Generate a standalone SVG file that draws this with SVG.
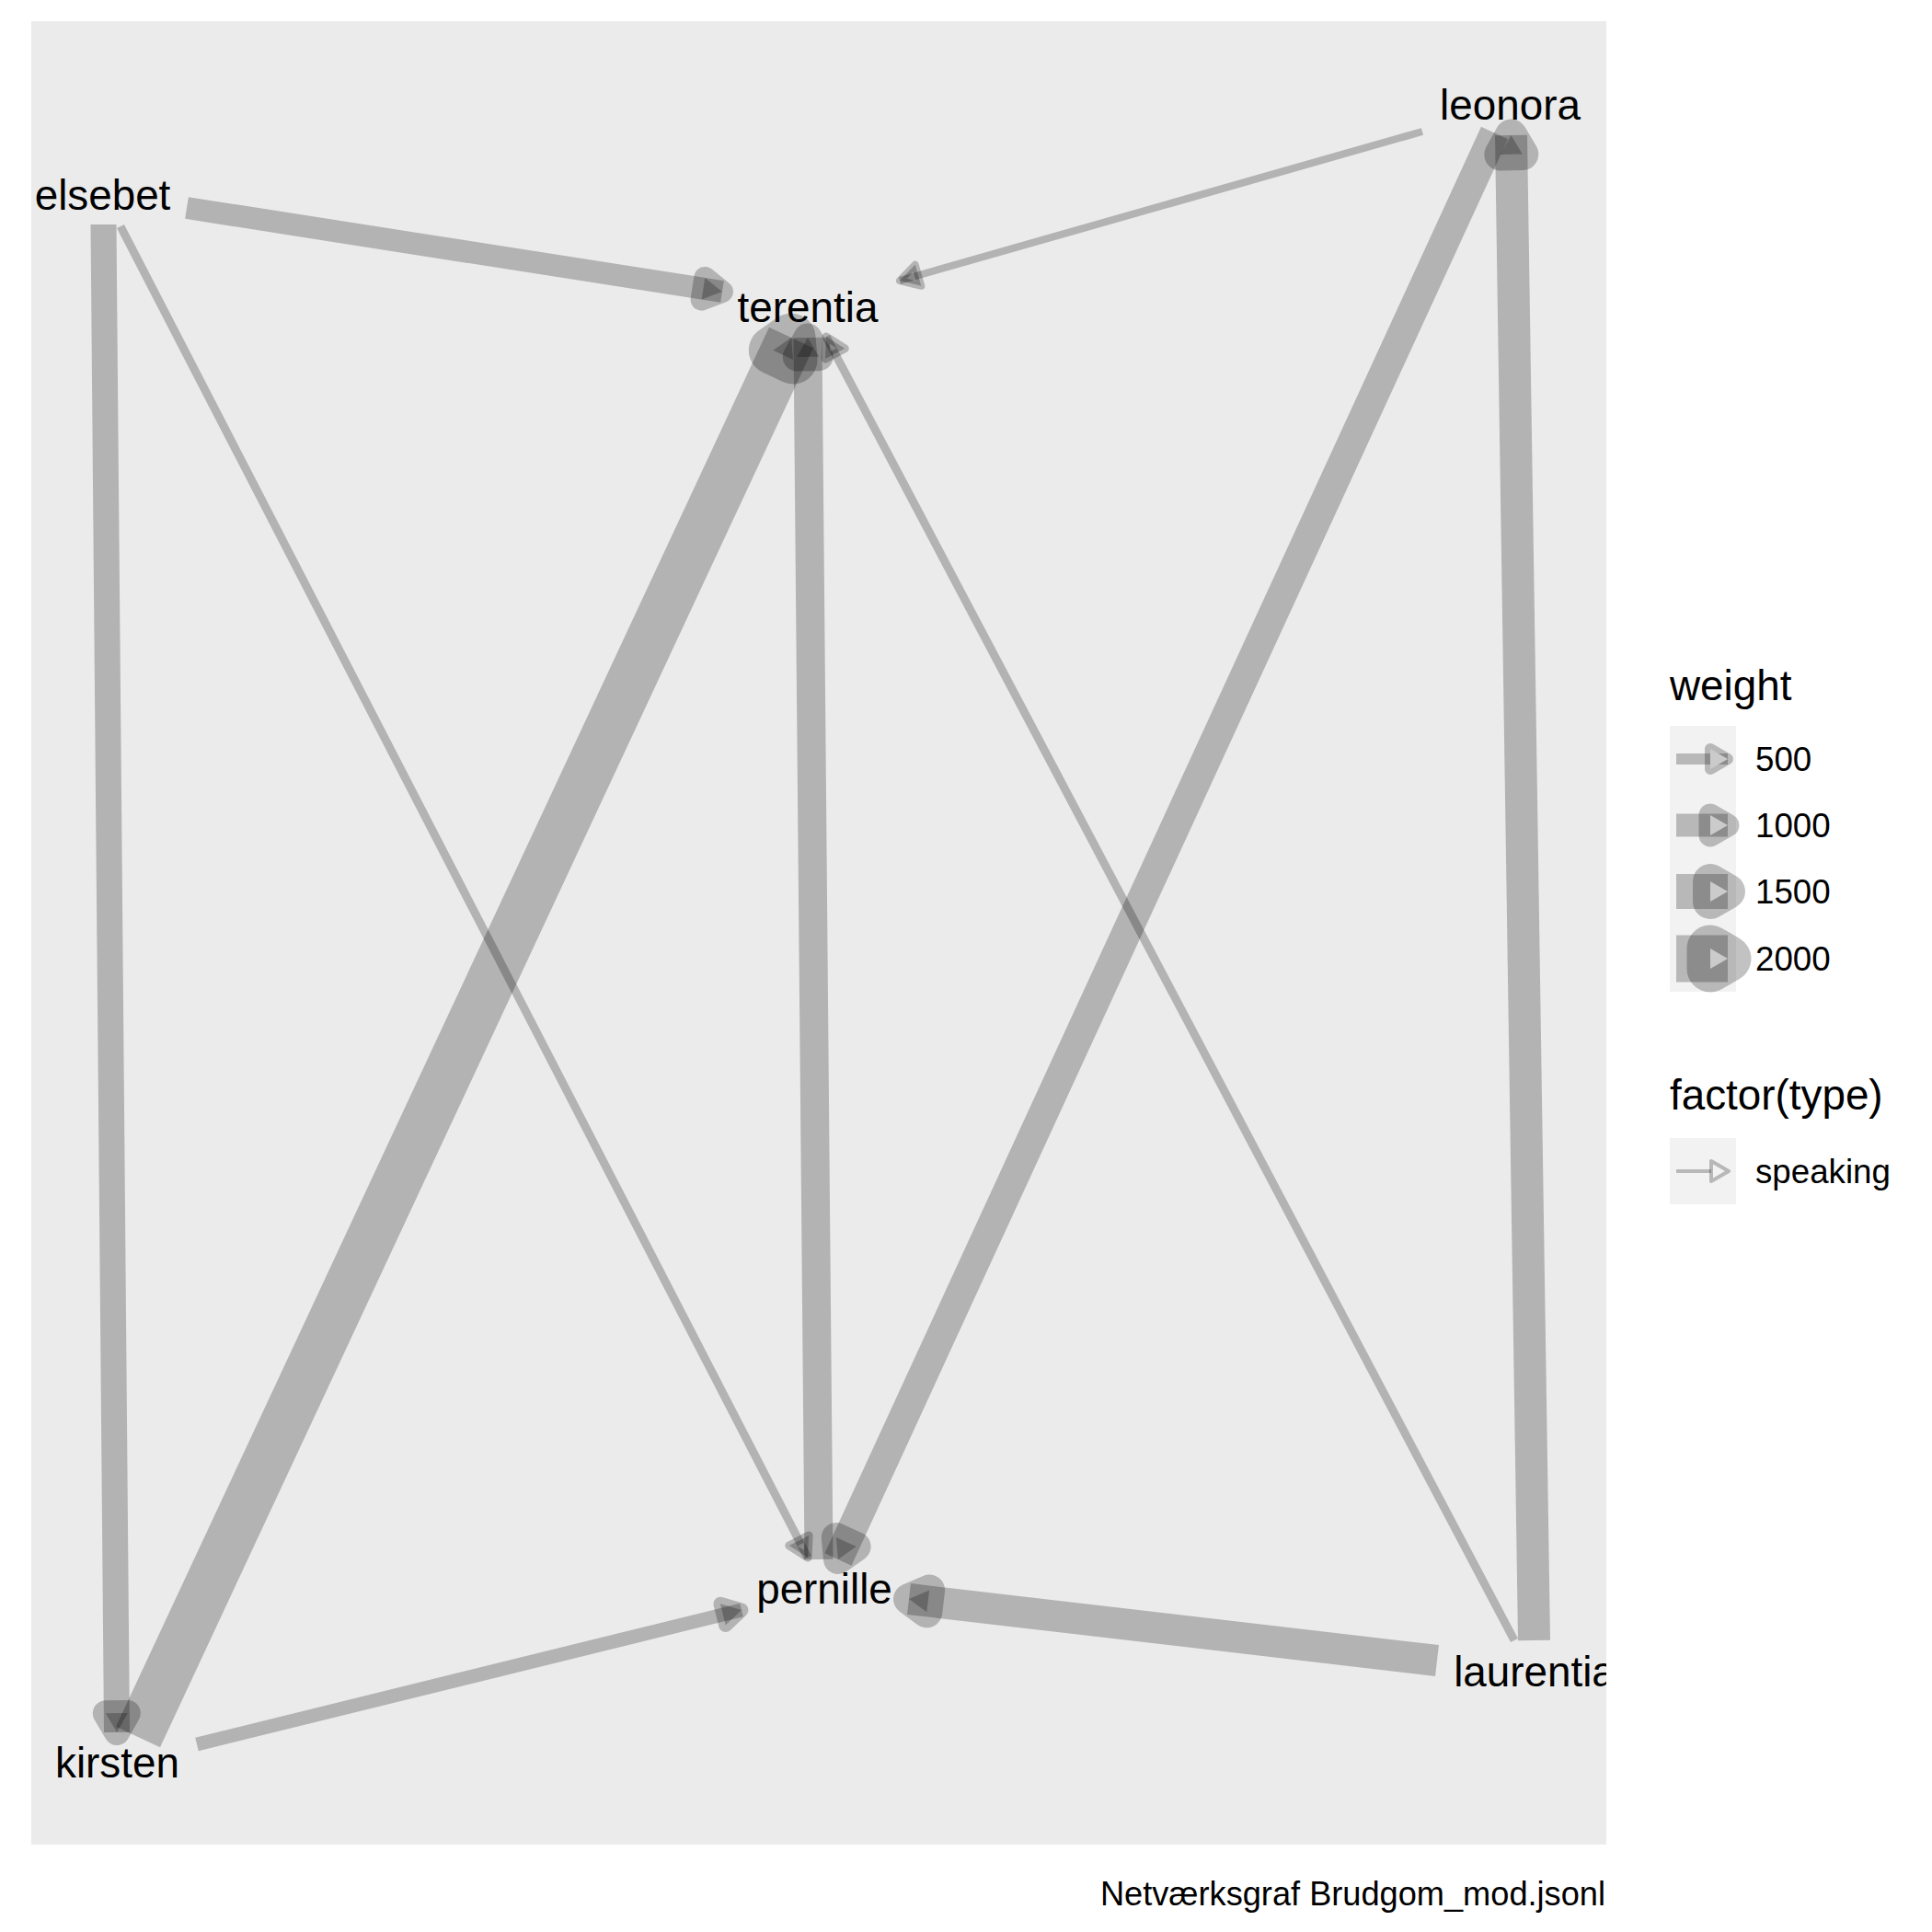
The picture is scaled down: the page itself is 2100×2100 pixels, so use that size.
<svg xmlns="http://www.w3.org/2000/svg" width="2100" height="2100" viewBox="0 0 2100 2100">
<style>
.lbl{font-family:"Liberation Sans",Arial,sans-serif;font-size:45.8px;fill:#000;text-anchor:middle}
.ttl{font-family:"Liberation Sans",Arial,sans-serif;font-size:45.8px;fill:#000}
.txt{font-family:"Liberation Sans",Arial,sans-serif;font-size:36.7px;fill:#000}
.cap{font-family:"Liberation Sans",Arial,sans-serif;font-size:36.2px;fill:#000;text-anchor:end}
.edge line{stroke:#000;stroke-opacity:.24;stroke-linecap:butt}
.edge polygon{fill:#000;fill-opacity:.24;stroke:#000;stroke-opacity:.24;stroke-linejoin:round}
.lk line{stroke:#000;stroke-opacity:.24;stroke-linecap:butt}
.lk .blob{fill:none;stroke:#000;stroke-opacity:.24;stroke-linejoin:round}
.lk .tri{fill:#CBCBCB;stroke:none}
</style>
<defs>
<clipPath id="panel"><rect x="34" y="23" width="1712" height="1982"/></clipPath>
</defs>
<rect x="0" y="0" width="2100" height="2100" fill="#FFFFFF"/>
<rect x="34" y="23" width="1712" height="1982" fill="#EBEBEB"/>
<g clip-path="url(#panel)">
<g id="edges">
<g class="edge" id="e-elsebet-terentia" stroke-width="24"><line x1="203" y1="226" x2="785" y2="317"/><polygon points="785,317 762.6,325.6 766.3,301.9"/></g>
<g class="edge" id="e-elsebet-kirsten" stroke-width="28"><line x1="112.5" y1="244" x2="127" y2="1883"/><polygon points="127,1883 114.8,1862.3 138.8,1862.1"/></g>
<g class="edge" id="e-elsebet-pernille" stroke-width="9"><line x1="131" y1="246" x2="878" y2="1693"/><polygon points="878,1693 857.8,1680.0 879.1,1669.0"/></g>
<g class="edge" id="e-leonora-terentia" stroke-width="8"><line x1="1546" y1="143" x2="978" y2="305"/><polygon points="978,305 994.7,287.8 1001.3,310.8"/></g>
<g class="edge" id="e-leonora-pernille" stroke-width="32"><line x1="1624.5" y1="144.5" x2="911" y2="1695"/><polygon points="911,1695 908.8,1671.1 930.6,1681.1"/></g>
<g class="edge" id="e-laurentia-leonora" stroke-width="35"><line x1="1667.5" y1="1783" x2="1642.5" y2="147"/><polygon points="1642.5,147 1654.8,167.6 1630.8,168.0"/></g>
<g class="edge" id="e-laurentia-terentia" stroke-width="9"><line x1="1646" y1="1783" x2="898" y2="366"/><polygon points="898,366 918.3,378.8 897.1,390.0"/></g>
<g class="edge" id="e-laurentia-pernille" stroke-width="34"><line x1="1562" y1="1805" x2="988" y2="1738"/><polygon points="988,1738 1010.1,1728.5 1007.3,1752.3"/></g>
<g class="edge" id="e-kirsten-pernille" stroke-width="15"><line x1="214" y1="1896" x2="806" y2="1750"/><polygon points="806,1750 788.7,1766.6 782.9,1743.3"/></g>
<g class="edge" id="e-kirsten-terentia" stroke-width="53"><line x1="150" y1="1888" x2="860" y2="367"/><polygon points="860,367 862.1,390.9 840.3,380.8"/></g>
<g class="edge" id="e-pernille-terentia" stroke-width="31"><line x1="890" y1="1695" x2="878" y2="367"/><polygon points="878,367 890.2,387.7 866.2,387.9"/></g>
</g>
<g id="node-elsebet"><text class="lbl" x="111.5" y="228">elsebet</text></g>
<g id="node-terentia"><text class="lbl" x="878" y="350">terentia</text></g>
<g id="node-leonora"><text class="lbl" x="1641.5" y="130">leonora</text></g>
<g id="node-kirsten"><text class="lbl" x="127.5" y="1932">kirsten</text></g>
<g id="node-pernille"><text class="lbl" x="896" y="1743">pernille</text></g>
<g id="node-laurentia"><text class="lbl" x="1668" y="1833">laurentia</text></g>
</g>
<g id="legend-weight">
<text class="ttl" x="1815" y="761">weight</text>
<rect x="1815" y="789" width="72" height="289" fill="#F2F2F2"/>
<g class="lk" stroke-width="12"><line x1="1822" y1="825" x2="1878" y2="825"/><polygon class="blob" points="1878,825 1859,814 1859,836"/><polygon class="tri" points="1878,825 1859,814 1859,836"/></g>
<g class="lk" stroke-width="25"><line x1="1822" y1="897" x2="1878" y2="897"/><polygon class="blob" points="1878,897 1859,886 1859,908"/><polygon class="tri" points="1878,897 1859,886 1859,908"/></g>
<g class="lk" stroke-width="38"><line x1="1822" y1="969" x2="1878" y2="969"/><polygon class="blob" points="1878,969 1859,958 1859,980"/><polygon class="tri" points="1878,969 1859,958 1859,980"/></g>
<g class="lk" stroke-width="51"><line x1="1822" y1="1042" x2="1878" y2="1042"/><polygon class="blob" points="1878,1042 1859,1031 1859,1053"/><polygon class="tri" points="1878,1042 1859,1031 1859,1053"/></g>
<text class="txt" x="1908" y="838">500</text>
<text class="txt" x="1908" y="910">1000</text>
<text class="txt" x="1908" y="982">1500</text>
<text class="txt" x="1908" y="1055">2000</text>
</g>
<g id="legend-type">
<text class="ttl" x="1815" y="1206">factor(type)</text>
<rect x="1815" y="1237" width="72" height="72" fill="#F2F2F2"/>
<g fill="none" stroke="#000" stroke-opacity=".24" stroke-width="4" stroke-linejoin="round">
<line x1="1822" y1="1273" x2="1860" y2="1273"/>
<polygon points="1879,1273 1860,1262 1860,1284"/>
</g>
<text class="txt" x="1908" y="1286">speaking</text>
</g>
<text class="cap" x="1745" y="2071">Netværksgraf Brudgom_mod.jsonl</text>
</svg>
